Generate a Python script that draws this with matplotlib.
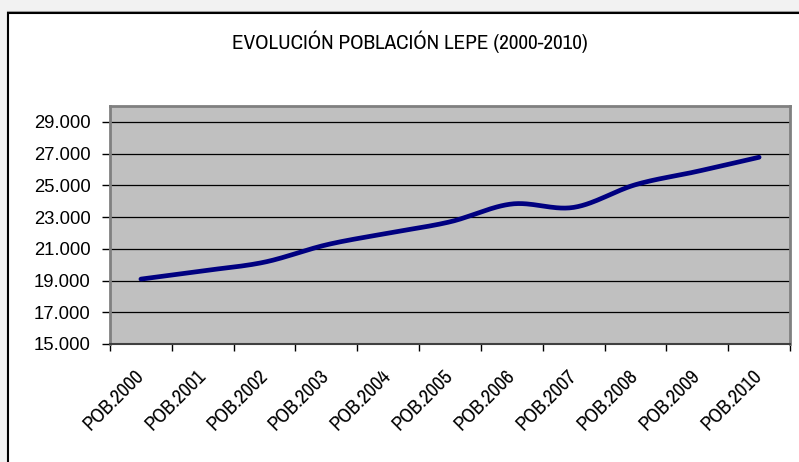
import numpy as np
import matplotlib
matplotlib.use("Agg")
import matplotlib.pyplot as plt
from matplotlib.patches import Rectangle
from matplotlib.transforms import ScaledTranslation

categories = ["POB.2000", "POB.2001", "POB.2002", "POB.2003", "POB.2004", "POB.2005",
              "POB.2006", "POB.2007", "POB.2008", "POB.2009", "POB.2010"]
population = [19090, 19610, 20160, 21250, 21990, 22700, 23825, 23610, 25040, 25880, 26770]
y_ticks = [15000, 17000, 19000, 21000, 23000, 25000, 27000, 29000]
y_tick_labels = ["15.000", "17.000", "19.000", "21.000", "23.000", "25.000", "27.000", "29.000"]
title = "EVOLUCIÓN POBLACIÓN LEPE (2000-2010)"

narrow = ["Pragati Narrow", "Liberation Sans", "DejaVu Sans"]
regular = ["Liberation Sans", "DejaVu Sans"]


def smooth(xs, ys, n=30):
    # Excel-style smoothed line (Catmull-Rom / Bezier through the points)
    xs = np.asarray(xs, float)
    ys = np.asarray(ys, float)
    px = np.concatenate([[xs[0]], xs, [xs[-1]]])
    py = np.concatenate([[ys[0]], ys, [ys[-1]]])
    ox, oy = [], []
    t = np.linspace(0, 1, n)
    for i in range(1, len(px) - 2):
        p0 = np.array([px[i], py[i]])
        p3 = np.array([px[i + 1], py[i + 1]])
        c1 = p0 + (np.array([px[i + 1], py[i + 1]]) - np.array([px[i - 1], py[i - 1]])) / 6
        c2 = p3 - (np.array([px[i + 2], py[i + 2]]) - np.array([px[i], py[i]])) / 6
        b = ((1 - t) ** 3)[:, None] * p0 + (3 * (1 - t) ** 2 * t)[:, None] * c1 + \
            (3 * (1 - t) * t ** 2)[:, None] * c2 + (t ** 3)[:, None] * p3
        ox.extend(b[:, 0])
        oy.extend(b[:, 1])
    return ox, oy


fig = plt.figure(figsize=(7.99, 4.62), dpi=100)
fig.patch.set_facecolor("#f2f2f2")
W, H = 799, 462
shadow = Rectangle((8 / W, -0.1), 1.2, (H - 12) / H + 0.1, transform=fig.transFigure,
                   facecolor="none", edgecolor="#a0a0a0", linewidth=1.5, zorder=-11)
fig.patches.append(shadow)
frame = Rectangle((8 / W, -0.1), 1.2, (H - 13.5) / H + 0.1, transform=fig.transFigure,
                  facecolor="white", edgecolor="black", linewidth=1.5, zorder=-10)
fig.patches.append(frame)

ax = fig.add_axes([110 / W, 1 - 344 / H, (790 - 110) / W, (344 - 106) / H])
ax.set_zorder(1)
ax.set_facecolor("#c0c0c0")

x = np.arange(len(categories))
sx, sy = smooth(x, population)
ax.plot(sx, sy, color="#000080", linewidth=3.4, solid_capstyle="round", zorder=3)

ax.set_xlim(-0.5, len(categories) - 0.5)
ax.set_ylim(15000, 30000)
ax.set_yticks(y_ticks)
ax.set_yticklabels(y_tick_labels, fontfamily=regular, fontsize=13.3)
ax.yaxis.grid(True, color="black", linewidth=0.9)
ax.set_axisbelow(True)

ax.set_xticks(x)
ax.set_xticklabels(categories, rotation=45, ha="right", va="center",
                   rotation_mode="anchor", fontfamily=narrow, fontsize=16)
offset = ScaledTranslation(-0.10, 0.02, fig.dpi_scale_trans)
for lbl in ax.get_xticklabels():
    lbl.set_transform(lbl.get_transform() + offset)
ax.set_xticks(np.arange(-0.5, len(categories)), minor=True)
ax.tick_params(axis="x", which="major", length=0, pad=21)
ax.tick_params(axis="x", which="minor", length=5, width=1, color="black")
ax.tick_params(axis="y", length=5.8, width=1, color="black", pad=8)

for side in ["left", "top", "right"]:
    ax.spines[side].set_color("#808080")
    ax.spines[side].set_linewidth(2)
ax.spines["bottom"].set_color("#404040")
ax.spines["bottom"].set_linewidth(1.5)

fig.text(410 / W, 1 - 42 / H, title, ha="center", va="center",
         fontfamily=narrow, fontsize=16.5)

fig.savefig("out.png", dpi=100, facecolor=fig.get_facecolor())
